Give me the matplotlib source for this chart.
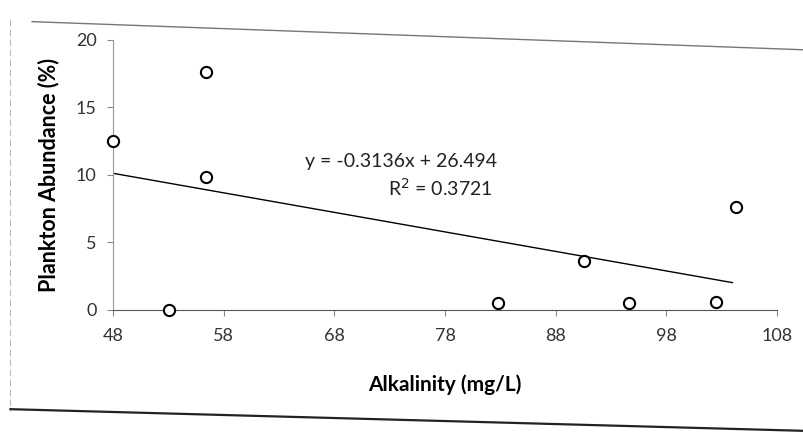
import matplotlib.pyplot as plt
from matplotlib.lines import Line2D

plt.rcParams['font.family'] = ['Lato', 'DejaVu Sans']

# Data
alkalinity = [48, 53, 56.4, 56.4, 82.8, 90.6, 94.6, 102.5, 104.3]
abundance = [12.5, 0.0, 17.6, 9.8, 0.5, 3.6, 0.5, 0.6, 7.6]

# trend line end points as drawn
trend_x = [48, 104]
trend_y = [10.1, 2.0]

x_ticks = [48, 58, 68, 78, 88, 98, 108]
y_ticks = [0, 5, 10, 15, 20]

fig = plt.figure(figsize=(8.04, 4.33), dpi=100)
ax = fig.add_axes([0.141, 0.285, 0.825, 0.623])

ax.plot(trend_x, trend_y, color="black", linewidth=1.0)
ax.scatter(alkalinity, abundance, s=65, facecolors="white", edgecolors="black",
           linewidths=1.5, zorder=3, clip_on=False)

ax.set_xlim(48, 108)
ax.set_ylim(0, 20)
ax.set_xticks(x_ticks)
ax.set_yticks(y_ticks)

for side in ["top", "right"]:
    ax.spines[side].set_visible(False)
ax.spines["left"].set_color("#999999")
ax.spines["bottom"].set_color("#555555")
ax.tick_params(axis="both", colors="#888888", labelcolor="#333333", labelsize=13, length=4)
ax.tick_params(axis="x", pad=9)
ax.tick_params(axis="y", pad=8)

ax.set_xlabel("Alkalinity (mg/L)", fontsize=15, fontweight="bold", labelpad=22)
ax.set_ylabel("Plankton Abundance (%)", fontsize=15.5, fontweight="bold", labelpad=12)

ax.text(65.3, 10.6, "y = -0.3136x + 26.494", fontsize=14, color="#222222")
ax.text(72.8, 8.4, "R$^2$ = 0.3721", fontsize=14, color="#222222")

# chart border (scanned frame)
fig.add_artist(Line2D([0.04, 1.0], [0.95, 0.885], color="#777777", linewidth=1.0))
fig.add_artist(Line2D([0.013, 0.013], [0.955, 0.05], color="#bbbbbb", linewidth=0.8, linestyle=(0, (6, 3))))
fig.add_artist(Line2D([0.013, 1.0], [0.055, 0.005], color="#222222", linewidth=1.6))

fig.savefig("out.png", dpi=100, facecolor="white")
